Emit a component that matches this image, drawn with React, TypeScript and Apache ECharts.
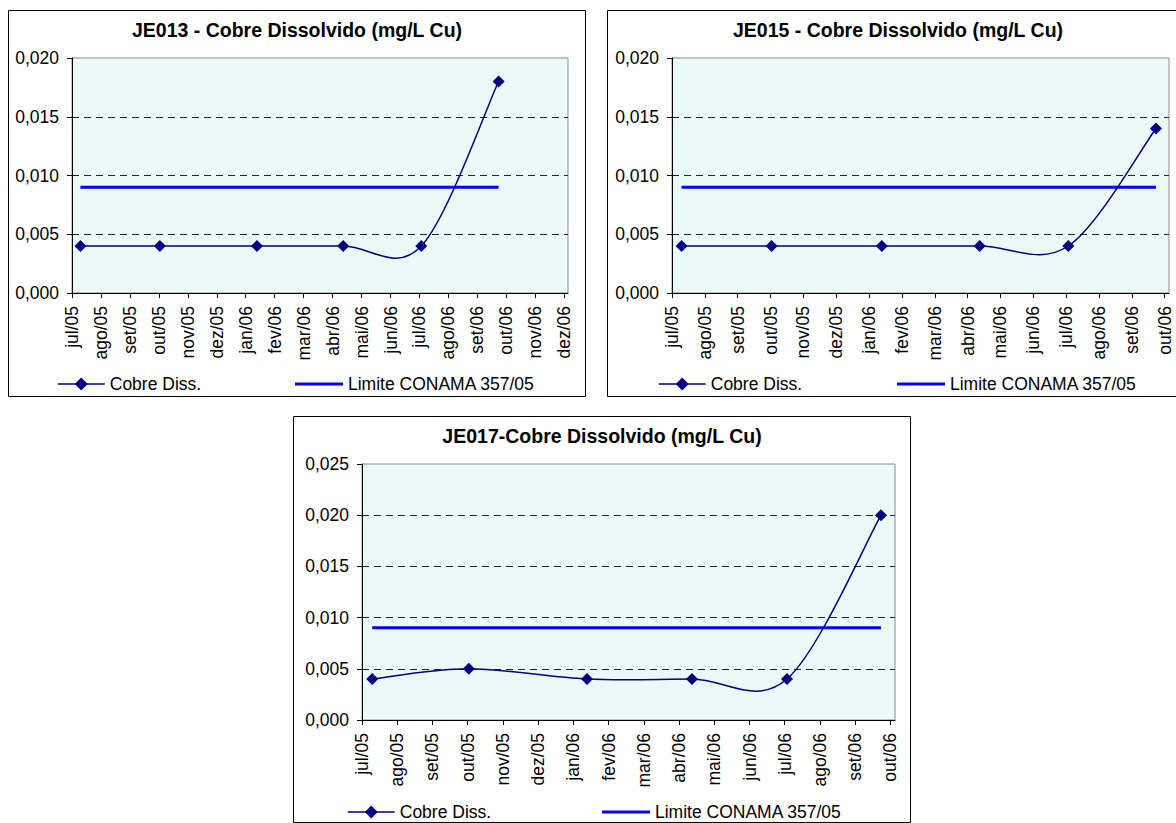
import React, { useEffect, useRef } from "react";
import * as echarts from "echarts";

// ---- data ----
const sampleDates = ["2005-07-10", "2005-10-02", "2006-01-13", "2006-04-12", "2006-07-03", "2006-09-23"];
const je013Cobre = [0.004, 0.004, 0.004, 0.004, 0.004, 0.018];
const je015Cobre = [0.004, 0.004, 0.004, 0.004, 0.004, 0.014];
const je017Cobre = [0.004, 0.005, 0.004, 0.004, 0.004, 0.02];
const conamaLimite = [0.009, 0.009, 0.009, 0.009, 0.009, 0.009];
const monthsJE013 = ["jul/05", "ago/05", "set/05", "out/05", "nov/05", "dez/05", "jan/06", "fev/06", "mar/06", "abr/06", "mai/06", "jun/06", "jul/06", "ago/06", "set/06", "out/06", "nov/06", "dez/06"];
const monthsJE015 = ["jul/05", "ago/05", "set/05", "out/05", "nov/05", "dez/05", "jan/06", "fev/06", "mar/06", "abr/06", "mai/06", "jun/06", "jul/06", "ago/06", "set/06", "out/06"];
const monthsJE017 = ["jul/05", "ago/05", "set/05", "out/05", "nov/05", "dez/05", "jan/06", "fev/06", "mar/06", "abr/06", "mai/06", "jun/06", "jul/06", "ago/06", "set/06", "out/06"];

const FONT = "'Liberation Sans', Arial, Helvetica, sans-serif";
const NAVY = "#000080";

// months elapsed since jul/05 (axis origin)
function monthPos(iso: string): number {
  const [y, m, d] = iso.split("-").map(Number);
  const days = new Date(y, m, 0).getDate();
  return (y - 2005) * 12 + (m - 7) + (d - 1) / days;
}

// Excel-like smoothed segment (Catmull-Rom as cubic Bezier), drawn through the axis scales
function renderSmoothSegment(params: any, api: any) {
  const i = params.dataIndexInside;
  const n = params.dataInsideLength;
  if (i >= n - 1) return { type: "group", children: [] };
  const P = (k: number) => {
    const kk = Math.max(0, Math.min(n - 1, k));
    return api.coord([api.value(0, kk), api.value(1, kk)]);
  };
  const p0 = P(i - 1);
  const p1 = P(i);
  const p2 = P(i + 1);
  const p3 = P(i + 2);
  return {
    type: "bezierCurve",
    shape: {
      x1: p1[0],
      y1: p1[1],
      x2: p2[0],
      y2: p2[1],
      cpx1: p1[0] + (p2[0] - p0[0]) / 6,
      cpy1: p1[1] + (p2[1] - p0[1]) / 6,
      cpx2: p2[0] - (p3[0] - p1[0]) / 6,
      cpy2: p2[1] - (p3[1] - p1[1]) / 6,
    },
    style: { stroke: NAVY, lineWidth: 1.5, fill: "none" },
  };
}

type Props = {
  title: string;
  values: number[];
  months: string[];
  yMax: number;
  box: { left: number; top: number; width: number; height: number };
  grid: { left: number; top: number; right: number; bottom: number };
  titleX: number;
  legend1X: number;
  legend2X: number;
  legendY: number;
};

function CopperChart(p: Props) {
  const ref = useRef<HTMLDivElement>(null);
  useEffect(() => {
    if (!ref.current) return;
    const chart = echarts.init(ref.current, undefined, { renderer: "svg" });
    const ticks = p.months.map((_, i) => i);
    const cobre = sampleDates.map((d, i) => [monthPos(d), p.values[i]]);
    const lim = sampleDates.map((d, i) => [monthPos(d), conamaLimite[i]]);
    const fmtY = (v: number) => v.toFixed(3).replace(".", ",");
    const legendText = { fontFamily: FONT, fontSize: 17.5, lineHeight: 18, color: "#000" };
    chart.setOption({
      animation: false,
      title: {
        text: p.title,
        left: p.titleX,
        top: 10,
        padding: 0,
        textAlign: "center",
        textStyle: { fontFamily: FONT, fontSize: 19.5, fontWeight: "bold", color: "#000" },
      },
      graphic: [
        {
          type: "rect",
          silent: true,
          z: -10,
          shape: { x: 0.5, y: 0.5, width: p.box.width - 1, height: p.box.height - 1 },
          style: { fill: "#fff", stroke: "#000", lineWidth: 1 },
        },
      ],
      legend: [
        {
          data: ["Cobre Diss."],
          left: p.legend1X,
          top: p.legendY - 9,
          padding: 0,
          itemWidth: 47,
          itemHeight: 16,
          itemGap: 0,
          selectedMode: false,
          lineStyle: { color: NAVY, width: 1.5, opacity: 1 },
          textStyle: legendText,
        },
        {
          data: [{ name: "Limite CONAMA 357/05", icon: "rect" }],
          left: p.legend2X,
          top: p.legendY - 9,
          padding: 0,
          itemWidth: 48,
          itemHeight: 3,
          itemGap: 0,
          selectedMode: false,
          textStyle: legendText,
        },
      ],
      grid: {
        ...p.grid,
        show: true,
        backgroundColor: "#ebf9f9",
        borderColor: "#8a8a8a",
        borderWidth: 1,
      },
      xAxis: {
        type: "value",
        min: 0,
        max: p.months.length - 1 + 0.13,
        interval: 1,
        axisLine: { show: true, lineStyle: { color: "#000", width: 1 } },
        axisTick: { show: true, length: 5, customValues: ticks, lineStyle: { color: "#000" } },
        axisLabel: {
          customValues: ticks,
          rotate: 90,
          margin: 13,
          color: "#000",
          fontFamily: FONT,
          fontSize: 17.5,
          formatter: (v: number) => p.months[Math.round(v)] ?? "",
        },
        splitLine: { show: false },
      },
      yAxis: {
        type: "value",
        min: 0,
        max: p.yMax,
        interval: 0.005,
        axisLine: { show: true, lineStyle: { color: "#000", width: 1 } },
        axisTick: { show: true, length: 5, lineStyle: { color: "#000" } },
        axisLabel: { margin: 13, color: "#000", fontFamily: FONT, fontSize: 17.5, formatter: fmtY },
        splitLine: {
          show: true,
          showMinLine: false,
          showMaxLine: false,
          lineStyle: { color: "#222", width: 1, type: [7, 5] },
        },
      },
      series: [
        {
          name: "Limite CONAMA 357/05",
          type: "line",
          data: lim,
          symbol: "none",
          z: 2,
          lineStyle: { color: "#0000ff", width: 3 },
          itemStyle: { color: "#0000ff" },
        },
        {
          name: "Cobre Diss. (curva)",
          type: "custom",
          data: cobre,
          z: 3,
          silent: true,
          clip: false,
          renderItem: renderSmoothSegment,
        },
        {
          name: "Cobre Diss.",
          type: "line",
          data: cobre,
          symbol: "diamond",
          symbolSize: 12,
          z: 4,
          lineStyle: { color: NAVY, width: 0, opacity: 0 },
          itemStyle: { color: NAVY },
        },
      ],
    });
    return () => chart.dispose();
  }, []);
  return (
    <div
      ref={ref}
      style={{ position: "absolute", left: p.box.left, top: p.box.top, width: p.box.width, height: p.box.height }}
    />
  );
}

export default function App() {
  return (
    <div style={{ position: "fixed", left: 0, top: 0, width: 1176, height: 823, background: "#fff", overflow: "hidden" }}>
      <CopperChart
        title="JE013 - Cobre Dissolvido (mg/L Cu)"
        values={je013Cobre}
        months={monthsJE013}
        yMax={0.02}
        box={{ left: 8, top: 10, width: 578, height: 387 }}
        grid={{ left: 64, top: 48, right: 18, bottom: 104 }}
        titleX={289}
        legend1X={49}
        legend2X={287}
        legendY={374}
      />
      <CopperChart
        title="JE015 - Cobre Dissolvido (mg/L Cu)"
        values={je015Cobre}
        months={monthsJE015}
        yMax={0.02}
        box={{ left: 607, top: 10, width: 570, height: 387 }}
        grid={{ left: 65, top: 48, right: 8, bottom: 104 }}
        titleX={291}
        legend1X={51}
        legend2X={290}
        legendY={374}
      />
      <CopperChart
        title="JE017-Cobre Dissolvido (mg/L Cu)"
        values={je017Cobre}
        months={monthsJE017}
        yMax={0.025}
        box={{ left: 293, top: 416, width: 618, height: 407 }}
        grid={{ left: 69, top: 48, right: 16, bottom: 103 }}
        titleX={309}
        legend1X={54}
        legend2X={309}
        legendY={396}
      />
    </div>
  );
}
